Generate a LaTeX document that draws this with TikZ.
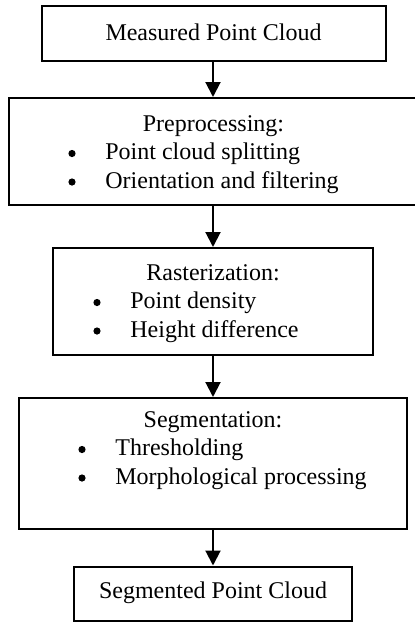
\documentclass[tikz,border=0pt]{standalone}
\usepackage{fontspec}
\setmainfont{Liberation Serif}
\usetikzlibrary{arrows.meta}
\begin{document}
\begin{tikzpicture}[x=0.5pt,y=-0.5pt,
  stagebox/.style={draw=black, line width=1pt, inner sep=0pt},
  arr/.style={line width=1pt, -{Triangle[width=7.5pt,length=7.5pt]}},
  txt/.style={inner sep=0pt, font=\fontsize{12}{14}\selectfont},
  head/.style={txt, anchor=base},
  item/.style={txt, anchor=base west},
  dot/.style={circle, fill=black, inner sep=0pt, minimum size=3.6pt}]
\useasboundingbox (0,0) rectangle (414,622);

% stage boxes
\node[stagebox, minimum width=172pt, minimum height=27.5pt] (b1) at (213.5,33.5) {};
\node[stagebox, minimum width=205pt, minimum height=53.5pt] (b2) at (214,151.5) {};
\node[stagebox, minimum width=160pt, minimum height=53.5pt] (b3) at (213,301.5) {};
\node[stagebox, minimum width=194pt, minimum height=65.5pt] (b4) at (213,463.5) {};
\node[stagebox, minimum width=139pt, minimum height=27pt] (b5) at (213,593.5) {};

% box texts
\node[head] (t1) at (213.5,40) {Measured Point Cloud};

\node[head] (t2) at (213.5,131) {Preprocessing:};
\node[dot] (d21) at (72,153.5) {};
\node[item] (i21) at (105,159.5) {Point cloud splitting};
\node[dot] (d22) at (72,182) {};
\node[item] (i22) at (105,188) {Orientation and filtering};

\node[head] (t3) at (213,280) {Rasterization:};
\node[dot] (d31) at (97,302.5) {};
\node[item] (i31) at (130,308.5) {Point density};
\node[dot] (d32) at (97,331) {};
\node[item] (i32) at (130,337) {Height difference};

\node[head] (t4) at (213,427) {Segmentation:};
\node[dot] (d41) at (82,449.5) {};
\node[item] (i41) at (115,455.5) {Thresholding};
\node[dot] (d42) at (82,478) {};
\node[item] (i42) at (115,484) {Morphological processing};

\node[head] (t5) at (213,598) {Segmented Point Cloud};

% connectors
\draw[arr] (b1.south -| b3.north) -- (b2.north -| b3.north);
\draw[arr] (b2.south -| b3.north) -- (b3.north);
\draw[arr] (b3.south) -- (b4.north);
\draw[arr] (b4.south) -- (b5.north);
\end{tikzpicture}
\end{document}
